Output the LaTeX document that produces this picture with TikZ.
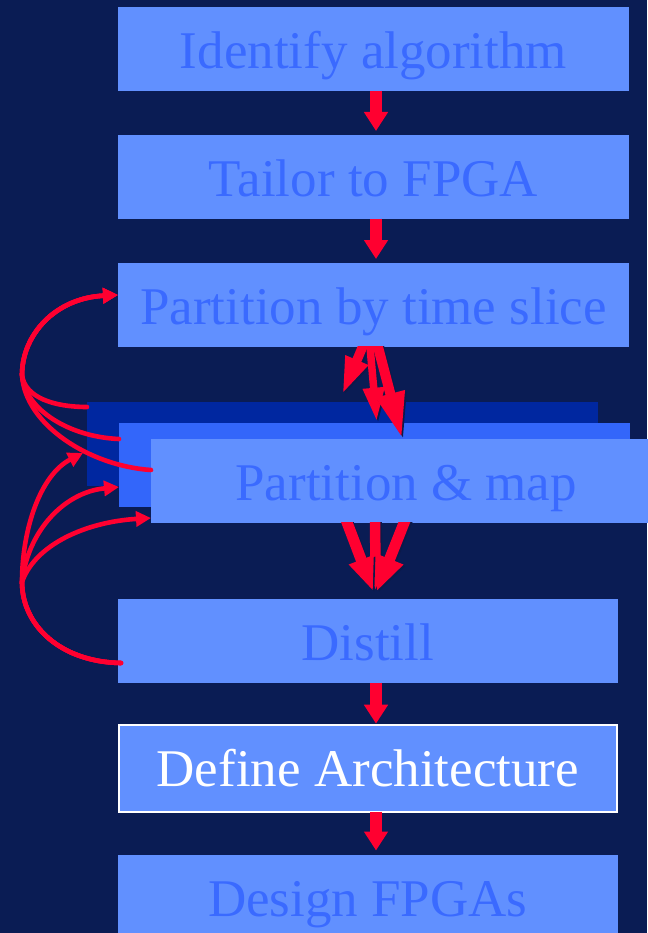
\documentclass[tikz,border=0pt]{standalone}
\usepackage{fontspec}
\setmainfont{Liberation Serif}
\usetikzlibrary{arrows.meta,calc}

\definecolor{bgnavy}{HTML}{0A1C54}
\definecolor{boxblue}{HTML}{6190FF}
\definecolor{txtblue}{HTML}{3A6AFF}
\definecolor{deepblue}{HTML}{0027A0}
\definecolor{midblue}{HTML}{3366FA}
\definecolor{arrowred}{HTML}{FF0030}
\definecolor{shade}{HTML}{0B1A4A}

\tikzset{
  flowbox/.style={rectangle, anchor=north west, fill=boxblue, text=txtblue,
    inner sep=0pt, outer sep=0pt, font=\fontsize{53}{60}\selectfont,
    text height=61.5pt, text depth=22.2pt, minimum width=#1},
  flowbox/.default=511pt,
  flowarrow/.style={draw=arrowred, line width=11.5pt,
    -{Triangle[length=19pt,width=23pt]}},
  loopline/.style={draw=arrowred, line width=4.6pt, line cap=round,
    -{Triangle[length=15pt,width=15pt]}},
}

% block arrow with a dark drop edge: line width, head length, head width, from, to
\newcommand\blockarrow[5]{%
  \draw[draw=shade, line width=#1, -{Triangle[length=#2,width=#3]},
        transform canvas={xshift=1.6pt,yshift=-1.6pt}] #4 -- #5;
  \draw[draw=arrowred, line width=#1, -{Triangle[length=#2,width=#3]}] #4 -- #5;}

\begin{document}
\begin{tikzpicture}[x=1pt,y=-1pt]
  \useasboundingbox (0,0) rectangle (647,933);
  \fill[bgnavy] (0,0) rectangle (647,933);

  % main flow
  \node[flowbox] (b1) at (118,7)   {Identify algorithm};
  \node[flowbox] (b2) at (118,135) {Tailor to FPGA};
  \node[flowbox] (b3) at (118,263) {Partition by time slice};

  % stacked partition boxes
  \node[flowbox=510.7pt, fill=deepblue] (dk) at (87,402) {};
  \node[flowbox, fill=midblue] (md) at (118.7,423) {};
  \node[flowbox] (fr) at (150.7,439) {Partition \& map};

  \node[flowbox=499.7pt] (ds) at (118,599) {Distill};
  \node[flowbox=497.7pt, draw=white, line width=2pt, text=white,
        text height=61pt, text depth=25.7pt] (df) at (119,725) {Define Architecture};
  \node[flowbox=499.7pt] (dg) at (118,855) {Design FPGAs};

  % straight arrows
  \coordinate (ax) at (376,0);
  \draw[flowarrow, shorten >=4pt]   (b1.south -| ax) -- (b2.north -| ax);
  \draw[flowarrow, shorten >=4pt]   (b2.south -| ax) -- (b3.north -| ax);
  \draw[flowarrow, shorten >=1.3pt] (ds.south -| ax) -- (df.north -| ax);
  \draw[flowarrow, shorten >=4.5pt] (df.south -| ax) -- (dg.north -| ax);

  % block arrows from the time-slice partition into the stack
  \begin{scope}
    \clip (b3.south west) rectangle (fr.north east);
    \blockarrow{9.5pt}{38pt}{22pt}{($(b3.south west)+(247.5,-6.7)$)}{($(dk.north west)+(255,-7)$)}
    \blockarrow{7.5pt}{34pt}{20pt}{($(b3.south west)+(251.4,-6.7)$)}{($(dk.north west)+(289.7,19.7)$)}
    \blockarrow{10pt}{46pt}{27pt}{($(b3.south west)+(258.2,-6.7)$)}{($(fr.north west)+(251.3,-0.7)$)}
  \end{scope}

  % block arrows from the stack into distill
  \begin{scope}
    \clip (fr.south west) rectangle (ds.north east);
    \blockarrow{10.5pt}{35pt}{19pt}{($(fr.south west)+(224.3,-6.7)$)}{($(ds.north west)+(257.7,-6)$)}
    \blockarrow{11pt}{34pt}{24pt}{($(fr.south west)+(193.9,-6.7)$)}{($(ds.north west)+(255.3,-7.5)$)}
    \blockarrow{11pt}{35pt}{27pt}{($(fr.south west)+(256.1,-6.7)$)}{($(ds.north west)+(258.7,-7.5)$)}
  \end{scope}

  % feedback loops on the left
  \coordinate (tl) at (22,375);
  \coordinate (bl) at (22,582);

  \draw[loopline] ($(dk.north west)+(0,5)$) .. controls (55,407) and (25,398) .. (tl)
        .. controls (22,335) and (55,298) .. ($(b3.north west)+(0,32)$);
  \draw[loopline] ($(md.north west)+(0.3,16)$) .. controls (70,437) and (25,410) .. (tl)
        .. controls (22,335) and (55,298) .. ($(b3.north west)+(0,32)$);
  \draw[loopline] ($(fr.north west)+(0.3,31)$) .. controls (90,466) and (25,425) .. (tl)
        .. controls (22,335) and (55,298) .. ($(b3.north west)+(0,32)$);

  \draw[loopline] ($(ds.north west)+(3,64)$) .. controls (60,662) and (22,625) .. (bl)
        .. controls (22,530) and (40,475) .. ($(dk.north west)+(-4,51)$);
  \draw[loopline] ($(ds.north west)+(3,64)$) .. controls (60,662) and (22,625) .. (bl)
        .. controls (28,530) and (65,492) .. ($(md.north west)+(0.3,64)$);
  \draw[loopline] ($(ds.north west)+(3,64)$) .. controls (60,662) and (22,625) .. (bl)
        .. controls (35,545) and (85,522) .. ($(fr.north west)+(0.3,79)$);
\end{tikzpicture}
\end{document}
